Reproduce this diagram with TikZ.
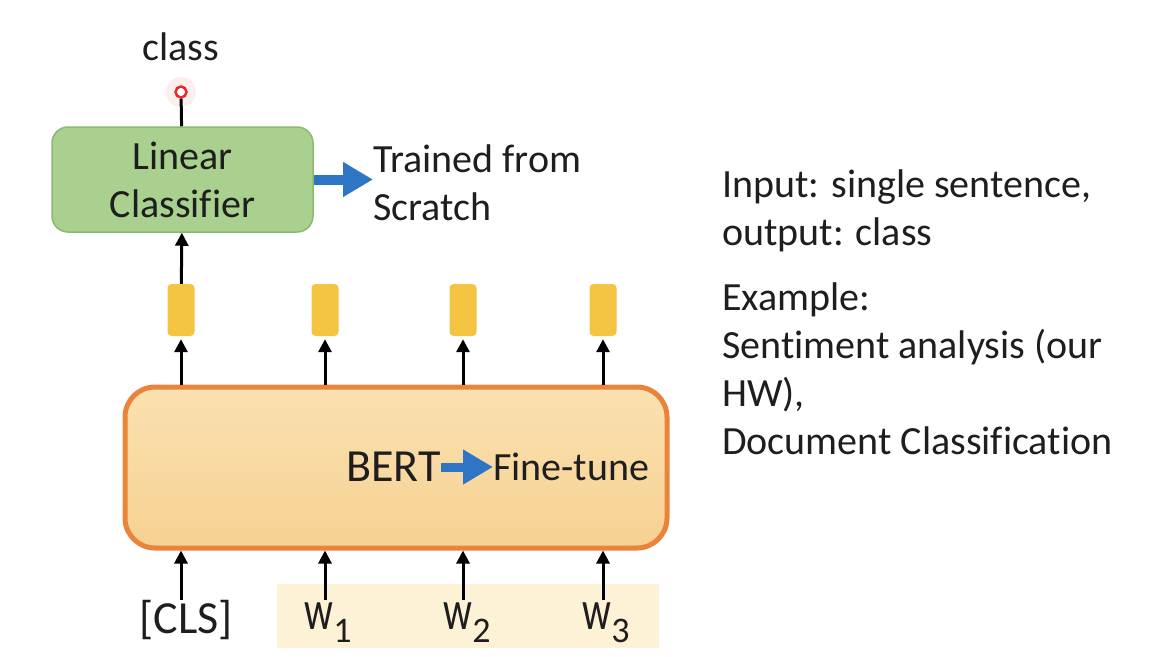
\documentclass[tikz,border=0pt]{standalone}
\usepackage{fontspec}
\setmainfont[Ligatures={NoCommon}]{Carlito}
\usetikzlibrary{arrows.meta,positioning}
\definecolor{txtgray}{RGB}{30,30,30}
\definecolor{lingreen}{RGB}{169,208,142}
\definecolor{linedge}{RGB}{140,185,112}
\definecolor{tokgold}{RGB}{245,195,66}
\definecolor{bertedge}{RGB}{234,132,58}
\definecolor{berttop}{RGB}{250,225,176}
\definecolor{bertbot}{RGB}{247,209,146}
\definecolor{inbg}{RGB}{253,242,214}
\definecolor{ftblue}{RGB}{46,117,198}
\definecolor{dotred}{RGB}{235,40,40}
\newcommand{\wsub}[1]{\scalebox{0.72}[1]{\fontsize{56}{56}\selectfont w}\raisebox{-0.3em}{\fontsize{36}{36}\selectfont #1}}

\begin{document}
\begin{tikzpicture}[x=1pt,y=-1pt,
  every node/.style={text=txtgray,inner sep=0pt},
  txt/.style={font=\fontsize{40}{48}\selectfont},
  big/.style={font=\fontsize{46}{52}\selectfont},
  classbox/.style={draw=linedge,fill=lingreen,line width=1.5pt,rounded corners=16pt,
    minimum width=261pt,minimum height=105pt,align=center,txt},
  bertbox/.style={draw=bertedge,line width=5pt,rounded corners=30pt,
    top color=berttop,bottom color=bertbot,minimum width=542pt,minimum height=161pt},
  tok/.style={fill=tokgold,rounded corners=4pt,minimum width=27pt,minimum height=52pt},
  outdot/.style={circle,draw=dotred,fill=white,line width=2.5pt,minimum size=11pt},
  glow/.style={fill=dotred,opacity=.08},
  up/.style={draw=black,line width=3pt,-{Triangle[length=13pt,width=13pt]}},
  bluearrow/.style={draw=ftblue,line width=10pt,-{Triangle[length=30pt,width=33pt]}}]

\useasboundingbox (0,0) rectangle (1174,656);

\node[fill=inbg,minimum width=382pt,minimum height=64pt] (inbg) at (468,616) {};
\node[bertbox] (bert) at (396,467.5) {};
\node[big,anchor=east] (bertlbl) at (441,467) {BERT};
\node[txt,anchor=west] (fine) at (493,467) {Fine-tune};
\draw[bluearrow,line width=9pt] (bertlbl.east) -- (fine.west);

\node[classbox] (lin) at (182.5,179.5) {Linear\\Classifier};
\fill[glow] (181,92) circle (15pt) (181,92) circle (12pt) (181,92) circle (9.5pt);
\node[outdot] (out) at (181,92) {};
\node[txt] (cls) at (181,47) {class};
\draw[line width=3pt] (out) -- (lin);

\node[txt,align=left,anchor=north west] (scratch) at (373,145) {Trained from\\Scratch};
\draw[bluearrow] (lin.east) -- (lin.east -| scratch.west);

\foreach \x/\n in {181/0,325/1,463/2,603/3}{
  \node[tok] (h\n) at (\x,310) {};
  \draw[up,shorten >=3pt] (bert.north -| h\n) -- (h\n);
}
\draw[up] (h0) -- (lin);

\node[big] (x0) at (186,620) {[CLS]};
\node[big,anchor=north] (x1) at (328,602) {\wsub{1}};
\node[big,anchor=north] (x2) at (467,602) {\wsub{2}};
\node[big,anchor=north] (x3) at (606,602) {\wsub{3}};
\foreach \n in {0,1,2,3}{
  \draw[up] (h\n |- x0.north) -- (h\n |- bert.south);
}

\node[txt,align=left,anchor=north west] (task) at (722,170) {Input: single sentence,\\output: class};
\node[txt,align=left,anchor=north west] (example) at (722,283) {Example:\\Sentiment analysis (our\\HW),\\Document Classification};
\end{tikzpicture}
\end{document}
